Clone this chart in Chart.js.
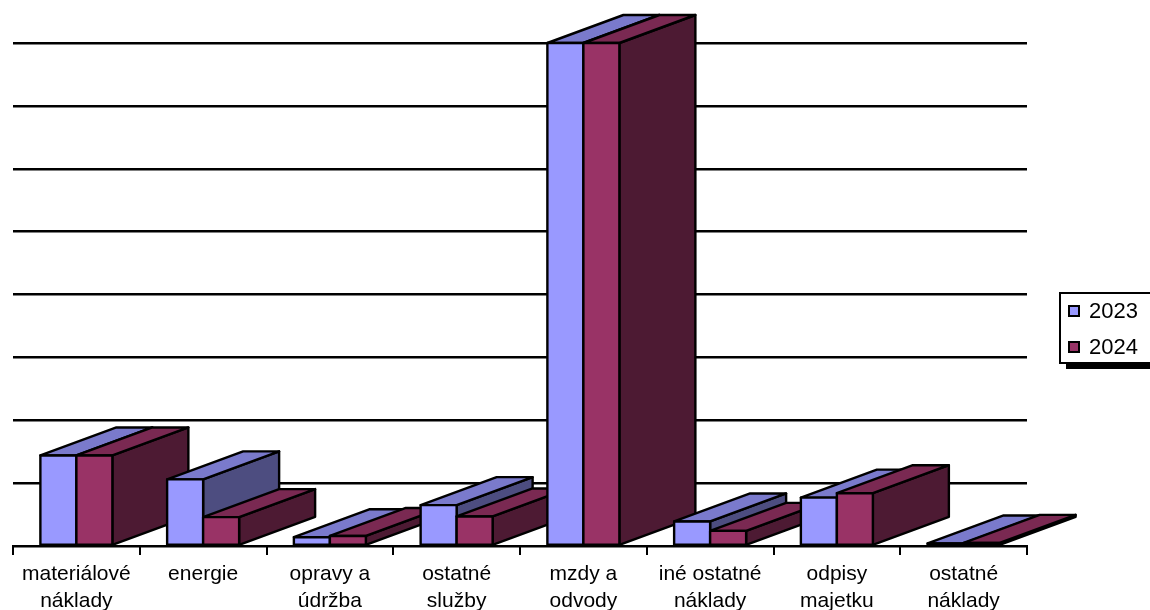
<!DOCTYPE html>
<html>
<head>
<meta charset="utf-8">
<script src="https://cdn.jsdelivr.net/npm/chart.js@4/dist/chart.umd.min.js"></script>
<style>
  html, body { margin: 0; padding: 0; background: #fff; }
  #wrap { width: 1150px; height: 610px; }
</style>
</head>
<body>
<div id="wrap"><canvas id="naklady"></canvas></div>
<script>
// kategorie a hodnoty (odcitane z obrazku, jednotky = 1 mriezka)
let categories = [
  ["materiálové", "náklady"],
  "energie",
  ["opravy a", "údržba"],
  ["ostatné", "služby"],
  ["mzdy a", "odvody"],
  ["iné ostatné", "náklady"],
  ["odpisy", "majetku"],
  ["ostatné", "náklady"]
];
let seriesNames = ["2023", "2024"];
let values2023 = [1.44, 1.06, 0.14, 0.65, 8, 0.39, 0.77, 0.04];
let values2024 = [1.44, 0.46, 0.16, 0.47, 8, 0.24, 0.84, 0.05];
let yTicksMax = 8;

// farby: predna, horna, bocna stena
let frontColors = ["#9999FF", "#993366"];
let topColors = ["#7A7ACC", "#7A2952"];
let sideColors = ["#4D4D80", "#4D1A33"];

let depthX = 76;
let depthY = -28;
let fontFam = "'Liberation Sans', Arial, sans-serif";

const bars3d = {
  id: "bars3d",
  afterDatasetsDraw(chart) {
    const ctx = chart.ctx;
    ctx.save();
    ctx.lineWidth = 2.4;
    ctx.lineJoin = "round";
    ctx.strokeStyle = "#000";
    const n = chart.data.labels.length;
    for (let i = 0; i < n; i++) {
      for (let d = 0; d < chart.data.datasets.length; d++) {
        const bar = chart.getDatasetMeta(d).data[i];
        const p = bar.getProps(["x", "y", "base", "width"], true);
        const l = p.x - p.width / 2, r = p.x + p.width / 2;
        const t = p.y, b = p.base;
        // bocna stena
        ctx.beginPath();
        ctx.moveTo(r, t);
        ctx.lineTo(r + depthX, t + depthY);
        ctx.lineTo(r + depthX, b + depthY);
        ctx.lineTo(r, b);
        ctx.closePath();
        ctx.fillStyle = sideColors[d];
        ctx.fill();
        ctx.stroke();
        // horna stena
        ctx.beginPath();
        ctx.moveTo(l, t);
        ctx.lineTo(r, t);
        ctx.lineTo(r + depthX, t + depthY);
        ctx.lineTo(l + depthX, t + depthY);
        ctx.closePath();
        ctx.fillStyle = topColors[d];
        ctx.fill();
        ctx.stroke();
        // predna stena
        ctx.beginPath();
        ctx.rect(l, t, r - l, b - t);
        ctx.fillStyle = frontColors[d];
        ctx.fill();
        ctx.stroke();
      }
    }
    ctx.restore();
  }
};

const legendBox = {
  id: "legendBox",
  afterDraw(chart) {
    const ctx = chart.ctx;
    ctx.save();
    ctx.fillStyle = "#000";
    ctx.fillRect(1066, 299, 100, 70);
    ctx.fillStyle = "#fff";
    ctx.fillRect(1060, 293, 100, 70);
    ctx.lineWidth = 2;
    ctx.strokeStyle = "#000";
    ctx.strokeRect(1060, 293, 100, 70);
    ctx.font = "22px " + fontFam;
    ctx.textBaseline = "middle";
    const rows = [311, 347];
    chart.data.datasets.forEach((ds, k) => {
      const cy = rows[k];
      ctx.fillStyle = frontColors[k];
      ctx.fillRect(1069, cy - 5, 10, 10);
      ctx.strokeRect(1069, cy - 5, 10, 10);
      ctx.fillStyle = "#000";
      ctx.fillText(ds.label, 1089, cy + 1);
    });
    ctx.restore();
  }
};

new Chart("naklady", {
  type: "bar",
  data: {
    labels: categories,
    datasets: [
      { label: seriesNames[0], data: values2023, backgroundColor: "rgba(0,0,0,0)", borderWidth: 0 },
      { label: seriesNames[1], data: values2024, backgroundColor: "rgba(0,0,0,0)", borderWidth: 0 }
    ]
  },
  options: {
    responsive: true,
    maintainAspectRatio: false,
    devicePixelRatio: 1,
    animation: false,
    categoryPercentage: 0.568,
    barPercentage: 1.0,
    layout: { padding: { top: 43, left: 13, right: 123, bottom: 0 } },
    plugins: { legend: { display: false }, tooltip: { enabled: false } },
    scales: {
      x: {
        grid: { offset: true, drawOnChartArea: false, color: "#000", lineWidth: 2, tickLength: 9 },
        border: { color: "#000", width: 2 },
        ticks: {
          color: "#000",
          padding: 6,
          maxRotation: 0,
          autoSkip: false,
          font: { family: fontFam, size: 21, lineHeight: 1.286 }
        },
        afterFit(scale) { scale.height = 64; }
      },
      y: {
        min: 0,
        max: yTicksMax,
        ticks: { stepSize: 1, display: false },
        border: { display: false },
        grid: { color: "#000", lineWidth: 2.4, drawTicks: false },
        afterFit(scale) { scale.width = 0; }
      }
    }
  },
  plugins: [bars3d, legendBox]
});
</script>
</body>
</html>
